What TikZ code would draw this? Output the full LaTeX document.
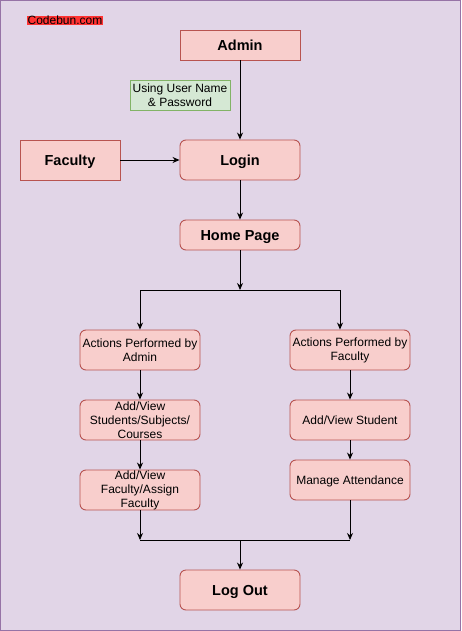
\documentclass[tikz,border=0pt]{standalone}
\usepackage{fontspec}
\setmainfont{Liberation Sans}
\usetikzlibrary{arrows.meta}
\definecolor{bgfill}{HTML}{E1D5E7}
\definecolor{bgline}{HTML}{9673A6}
\definecolor{redfill}{HTML}{F8CECC}
\definecolor{redline}{HTML}{B85450}
\definecolor{greenfill}{HTML}{D5E8D4}
\definecolor{greenline}{HTML}{82B366}
\definecolor{tagred}{HTML}{FF3333}
\tikzset{
  box/.style={draw=redline, fill=redfill, line width=0.9pt, inner sep=0pt, minimum width=120pt, minimum height=40pt},
  bigbox/.style={box, font=\fontsize{14.5}{16}\selectfont\bfseries, text height=10.4pt, text depth=0pt},
  onebox/.style={box, rounded corners=6pt, font=\fontsize{12}{14}\selectfont, text height=8.6pt, text depth=0pt},
  multibox/.style={box, rounded corners=6pt, font=\fontsize{12}{14}\selectfont, align=center},
  arr/.style={-{Stealth[length=7pt,width=6pt]}, line width=0.9pt},
  ln/.style={line width=0.9pt},
}
\begin{document}
\begin{tikzpicture}[x=1pt,y=-1pt]
\useasboundingbox (0,0) rectangle (461,631);
\draw[bgline, fill=bgfill, line width=1pt] (0.5,0.5) rectangle (460.5,630.5);
% nodes
\node[inner sep=0.5pt, fill=tagred, font=\fontsize{12}{14}\selectfont] (tag) at (65,20.5) {Codebun.com};
\node[bigbox, minimum height=30pt] (admin) at (240,45) {Admin};
\node[draw=greenline, fill=greenfill, line width=0.9pt, inner sep=0pt, align=center, minimum width=100pt, minimum height=30pt, font=\fontsize{12}{14}\selectfont] (cred) at (180,95) {Using User Name\\\& Password};
\node[bigbox, rounded corners=6pt] (login) at (240,160) {Login};
\node[bigbox, minimum width=100pt] (faculty) at (70,160) {Faculty};
\node[bigbox, rounded corners=6pt, minimum height=30pt] (home) at (240,235) {Home Page};
\coordinate (split) at (240,290);
\node[multibox] (actA) at (140,350) {Actions Performed by\\Admin};
\node[multibox] (actF) at (350,350) {Actions Performed by\\Faculty};
\node[multibox] (addS) at (140,420) {Add/View\\Students/Subjects/\\Courses};
\node[multibox] (addF) at (140,490) {Add/View\\Faculty/Assign\\Faculty};
\node[onebox] (addSt) at (350,420) {Add/View Student};
\node[onebox] (manage) at (350,480) {Manage Attendance};
\node[bigbox, rounded corners=6pt] (logout) at (240,590) {Log Out};
\coordinate (joinL) at (140,540);
\coordinate (joinR) at (350,540);
\coordinate (join) at (240,540);
% connectors
\draw[arr] (admin) -- (login);
\draw[arr] (faculty) -- (login);
\draw[arr] (login) -- (home);
\draw[arr] (home) -- (split);
\draw[arr] (split) -| (actA.north);
\draw[arr] (split) -| ([xshift=-10pt]actF.north);
\draw[arr] (actA) -- (addS);
\draw[arr] (addS) -- (addF);
\draw[arr] (actF) -- (addSt);
\draw[arr] (addSt) -- (manage);
\draw[arr] (addF) -- (joinL);
\draw[arr] (manage) -- (joinR);
\draw[ln] (joinL) -- (joinR);
\draw[arr] (join) -- (logout);
\end{tikzpicture}
\end{document}
